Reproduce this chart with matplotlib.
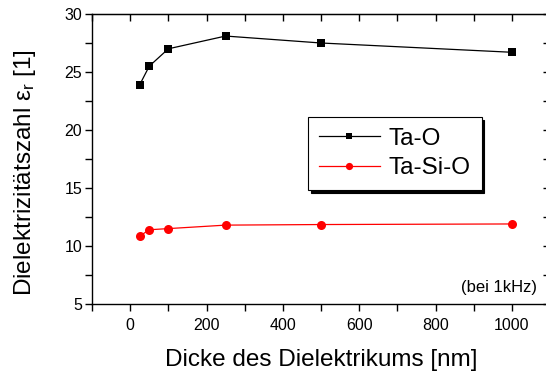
import matplotlib
matplotlib.use("Agg")
import matplotlib.pyplot as plt
from matplotlib.ticker import MultipleLocator

plt.rcParams['font.family'] = ['Liberation Sans', 'DejaVu Sans']
plt.rcParams['mathtext.default'] = 'regular'

# Dielectric thickness [nm]
thickness = [25, 50, 100, 250, 500, 1000]
# Relative permittivity at 1 kHz
eps_ta_o = [23.9, 25.5, 27.0, 28.1, 27.5, 26.7]
eps_ta_si_o = [10.85, 11.4, 11.5, 11.8, 11.85, 11.9]

fig = plt.figure(figsize=(5.46, 3.72), dpi=100)
ax = fig.add_axes([92 / 546, (372 - 304) / 372, (550 - 92) / 546, (304 - 14) / 372])

ax.plot(thickness, eps_ta_o, color='black', lw=0.9, marker='s', ms=6,
        markeredgewidth=0, label='Ta-O')
ax.plot(thickness, eps_ta_si_o, color='red', lw=0.9, marker='o', ms=6.5,
        markeredgewidth=0, label='Ta-Si-O')

ax.set_xlim(-100, 1100)
ax.set_ylim(5, 30)
ax.xaxis.set_major_locator(MultipleLocator(200))
ax.xaxis.set_minor_locator(MultipleLocator(100))
ax.yaxis.set_major_locator(MultipleLocator(5))
ax.yaxis.set_minor_locator(MultipleLocator(2.5))
ax.tick_params(axis='both', which='both', length=5, width=1, labelsize=11.5,
               direction='out')
ax.tick_params(axis='x', which='both', pad=5)
ax.tick_params(axis='y', which='both', pad=2)

# inward-pointing mirrored ticks on the top and right frame
top = ax.secondary_xaxis('top')
top.xaxis.set_major_locator(MultipleLocator(200))
top.xaxis.set_minor_locator(MultipleLocator(100))
top.tick_params(axis='x', which='both', direction='in', length=5, width=1,
                labeltop=False)
right = ax.secondary_yaxis('right')
right.yaxis.set_major_locator(MultipleLocator(5))
right.yaxis.set_minor_locator(MultipleLocator(2.5))
right.tick_params(axis='y', which='both', direction='in', length=5, width=1,
                  labelright=False)

for sp in ax.spines.values():
    sp.set_linewidth(1)

ax.set_xlabel('Dicke des Dielektrikums [nm]', fontsize=17.5, labelpad=11.5)
ax.set_ylabel(r'Dielektrizitätszahl $\varepsilon_r$ [1]', fontsize=17.5)
ax.yaxis.set_label_coords(-0.118, 0.452)

ax.text(1065, 6.45, '(bei 1kHz)', fontsize=12, ha='right', va='center')

leg = ax.legend(loc='upper left', bbox_to_anchor=((308 - 92) / 458, (304 - 117) / 290),
                fontsize=17.5, frameon=True, fancybox=False,
                shadow={'color': 'black', 'alpha': 1},
                edgecolor='black', handlelength=2.5, handletextpad=0.37,
                borderpad=0.45, labelspacing=0.3, markerscale=0.8, borderaxespad=0)
leg.get_frame().set_linewidth(0.8)

fig.savefig('out.png', dpi=100)
